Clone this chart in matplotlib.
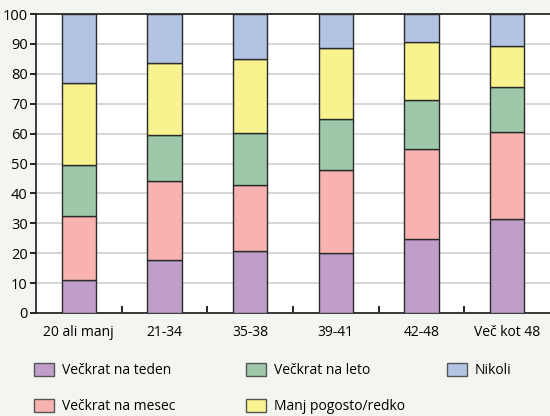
import numpy as np
import matplotlib.pyplot as plt
from matplotlib.patches import Patch

plt.rcParams['font.family'] = ['Open Sans', 'DejaVu Sans']

categories = ['20 ali manj', '21-34', '35-38', '39-41', '42-48', 'Več kot 48']
series = ['Večkrat na teden', 'Večkrat na mesec', 'Večkrat na leto',
          'Manj pogosto/redko', 'Nikoli']
teden = [11.0, 17.7, 20.9, 20.2, 24.8, 31.5]
mesec = [21.5, 26.4, 21.8, 27.6, 30.2, 29.2]
leto = [17.1, 15.3, 17.5, 17.2, 16.1, 14.9]
manj = [27.4, 24.1, 24.8, 23.7, 19.7, 13.6]
nikoli = [23.0, 16.5, 15.0, 11.3, 9.2, 10.8]
colors = ['#bf9fc9', '#f8b3b0', '#9dc8a9', '#f8f38e', '#b3c3e3']

fig = plt.figure(figsize=(5.5, 4.16), dpi=100)
fig.patch.set_facecolor('#f2f5f0')
ax = fig.add_axes([36 / 550, 1 - 313 / 416, 1 - 36 / 550, 299 / 416])
ax.set_facecolor('white')

x = np.arange(len(categories))
bottom = np.zeros(len(categories))
for vals, col in zip([teden, mesec, leto, manj, nikoli], colors):
    ax.bar(x, vals, 0.4, bottom=bottom, color=col, edgecolor='#2a2a2a',
           linewidth=1.0, zorder=3)
    bottom += np.array(vals)

ax.set_xlim(-0.5, len(categories) - 0.5)
ax.set_ylim(0, 100)
ax.set_yticks(np.arange(0, 101, 10))
ax.yaxis.grid(True, color='#d0d0d0', linewidth=1.2, zorder=0)
ax.set_axisbelow(True)

ax.set_xticks(x)
ax.set_xticklabels(categories, fontsize=10)
ax.tick_params(axis='x', which='major', length=0, pad=9)
ax.set_xticks(np.arange(0.5, len(categories) - 1, 1), minor=True)
ax.tick_params(axis='x', which='minor', direction='in', length=5, width=1.2)
ax.tick_params(axis='y', labelsize=10.5, length=4, width=1.2, pad=2)

for side in ['left', 'bottom', 'top']:
    ax.spines[side].set_linewidth(1.2)
    ax.spines[side].set_color('#1a1a1a')
ax.spines['right'].set_visible(False)

# legend: three columns placed separately
handles = [Patch(facecolor=c, edgecolor='#555555', linewidth=1.0) for c in colors]
col_x = [34, 246, 447]
groups = [[0, 1], [2, 3], [4]]
for cx, idx in zip(col_x, groups):
    leg = fig.legend([handles[i] for i in idx], [series[i] for i in idx],
                     loc='upper left', bbox_to_anchor=(cx / 550, 1 - 363 / 416),
                     frameon=False, fontsize=10, handlelength=1.45,
                     handleheight=1.05, handletextpad=0.55, labelspacing=1.5,
                     borderpad=0, borderaxespad=0)

fig.savefig('out.png', dpi=100, facecolor=fig.get_facecolor())
